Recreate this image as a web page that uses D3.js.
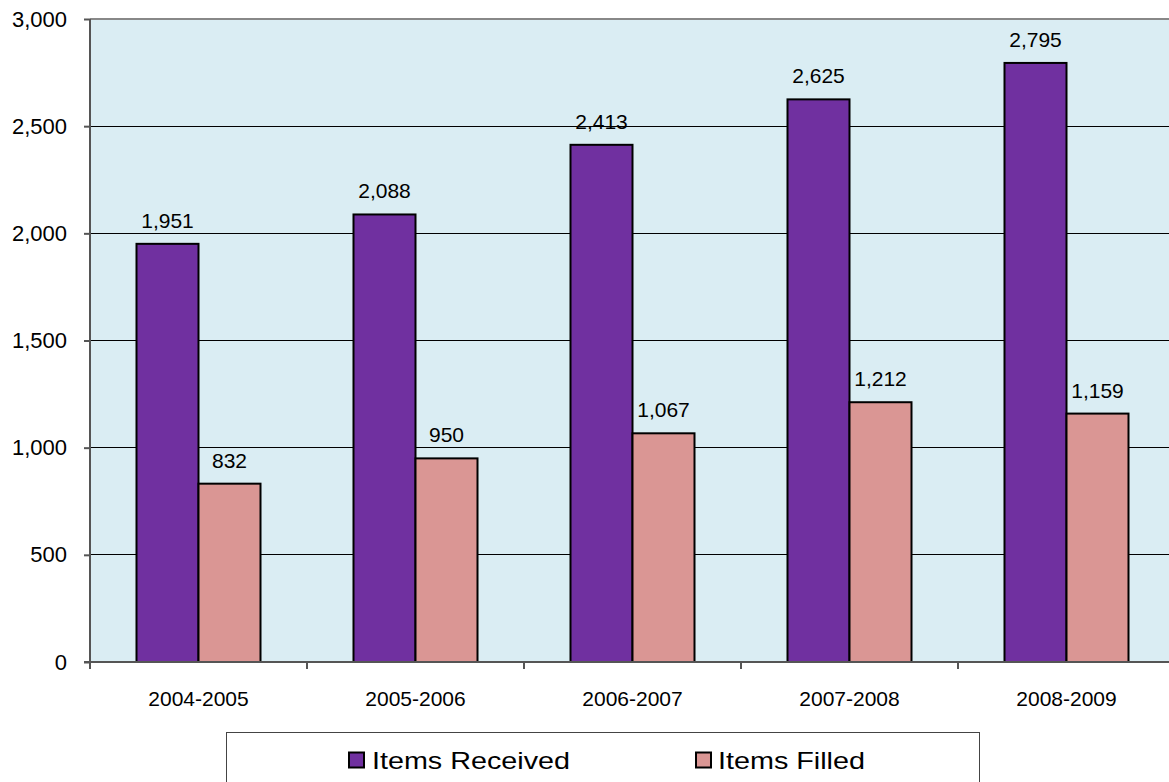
<!DOCTYPE html>
<html><head><meta charset="utf-8">
<script src="https://cdn.jsdelivr.net/npm/d3@7"></script>
<style>body{margin:0;background:#fff;overflow:hidden}svg{display:block;font-family:"Liberation Sans",Arial,sans-serif}</style>
</head><body>
<svg id="c" width="1169" height="782"></svg>
<script>
const categories = ["2004-2005","2005-2006","2006-2007","2007-2008","2008-2009"];
const itemsReceived = [1951,2088,2413,2625,2795];
const itemsFilled = [832,950,1067,1212,1159];
const seriesNames = ["Items Received","Items Filled"];
const yTicks = [0,500,1000,1500,2000,2500,3000];

const colors = ["#7030A0","#DA9694"];
const svg = d3.select("#c");
const L = 90, T = 19, B = 662, R = 1175;
const x = d3.scaleBand().domain(categories).range([L,R]).paddingInner(0).paddingOuter(0);
const y = d3.scaleLinear().domain([0,3000]).range([B,T]);
const fmt = d3.format(",");

svg.append("rect").attr("x",L).attr("y",T).attr("width",R-L).attr("height",B-T).attr("fill","#DAEDF3");

// gridlines
svg.append("g").selectAll("line").data(yTicks.filter(d=>d>0 && d<3000)).join("line")
  .attr("x1",L).attr("x2",R).attr("y1",d=>y(d)).attr("y2",d=>y(d))
  .attr("stroke","#000").attr("stroke-width",1).attr("shape-rendering","crispEdges");
// top border
svg.append("line").attr("x1",L).attr("x2",R).attr("y1",T).attr("y2",T).attr("stroke","#888").attr("stroke-width",2);

const groupW = 124, barW = 62;
const series = [itemsReceived, itemsFilled];
series.forEach((vals,si)=>{
  const g = svg.append("g");
  const off = (x.bandwidth()-groupW)/2 + si*barW;
  g.selectAll("rect").data(vals).join("rect")
    .attr("x",(d,i)=>x(categories[i])+off)
    .attr("y",d=>y(d)).attr("width",barW).attr("height",d=>B-y(d))
    .attr("fill",colors[si]).attr("stroke","#000").attr("stroke-width",2);
  g.selectAll("text").data(vals).join("text")
    .attr("x",(d,i)=>x(categories[i])+off+barW/2)
    .attr("y",d=>y(d)-16).attr("text-anchor","middle")
    .attr("font-size",21).attr("fill","#000").text(d=>fmt(d));
});

// y axis
const ya = d3.axisLeft(y).tickValues(yTicks).tickSize(6).tickPadding(17).tickFormat(fmt);
const gy = svg.append("g").attr("transform",`translate(${L},0)`).call(ya);
gy.select(".domain").attr("stroke","#555").attr("stroke-width",2).attr("d",`M0,${T}V${B}`);
gy.selectAll(".tick line").attr("stroke","#555").attr("stroke-width",2);
gy.selectAll(".tick text").attr("font-size",22).attr("fill","#000").attr("font-family","Liberation Sans, Arial, sans-serif");

// x axis
const xa = d3.axisBottom(x).tickSize(0).tickPadding(0);
const gx = svg.append("g").attr("transform",`translate(0,${B})`).call(xa);
gx.select(".domain").remove();
gx.append("line").attr("x1",L-6).attr("x2",R).attr("y1",0).attr("y2",0).attr("stroke","#555").attr("stroke-width",2);
gx.selectAll(".tick text").attr("font-size",21).attr("fill","#000").attr("dy",0).attr("y",44).attr("font-family","Liberation Sans, Arial, sans-serif");
// category separator ticks
gx.append("g").selectAll("line").data(d3.range(categories.length+1)).join("line")
  .attr("x1",i=>L+i*x.bandwidth()).attr("x2",i=>L+i*x.bandwidth()).attr("y1",0).attr("y2",7)
  .attr("stroke","#555").attr("stroke-width",2);

// legend
svg.append("rect").attr("x",226.5).attr("y",732.5).attr("width",753).attr("height",80)
  .attr("fill","#fff").attr("stroke","#444").attr("stroke-width",1);
const legX = [349,696], legTxtX=[372,718], legLen=[198,147];
seriesNames.forEach((n,i)=>{
  svg.append("rect").attr("x",legX[i]).attr("y",752.5).attr("width",15).attr("height",15)
    .attr("fill",colors[i]).attr("stroke","#000").attr("stroke-width",2);
  svg.append("text").attr("x",legTxtX[i]).attr("y",769).attr("font-size",24)
    .attr("textLength",legLen[i]).attr("lengthAdjust","spacingAndGlyphs").attr("fill","#000").text(n);
});
</script>
</body></html>
